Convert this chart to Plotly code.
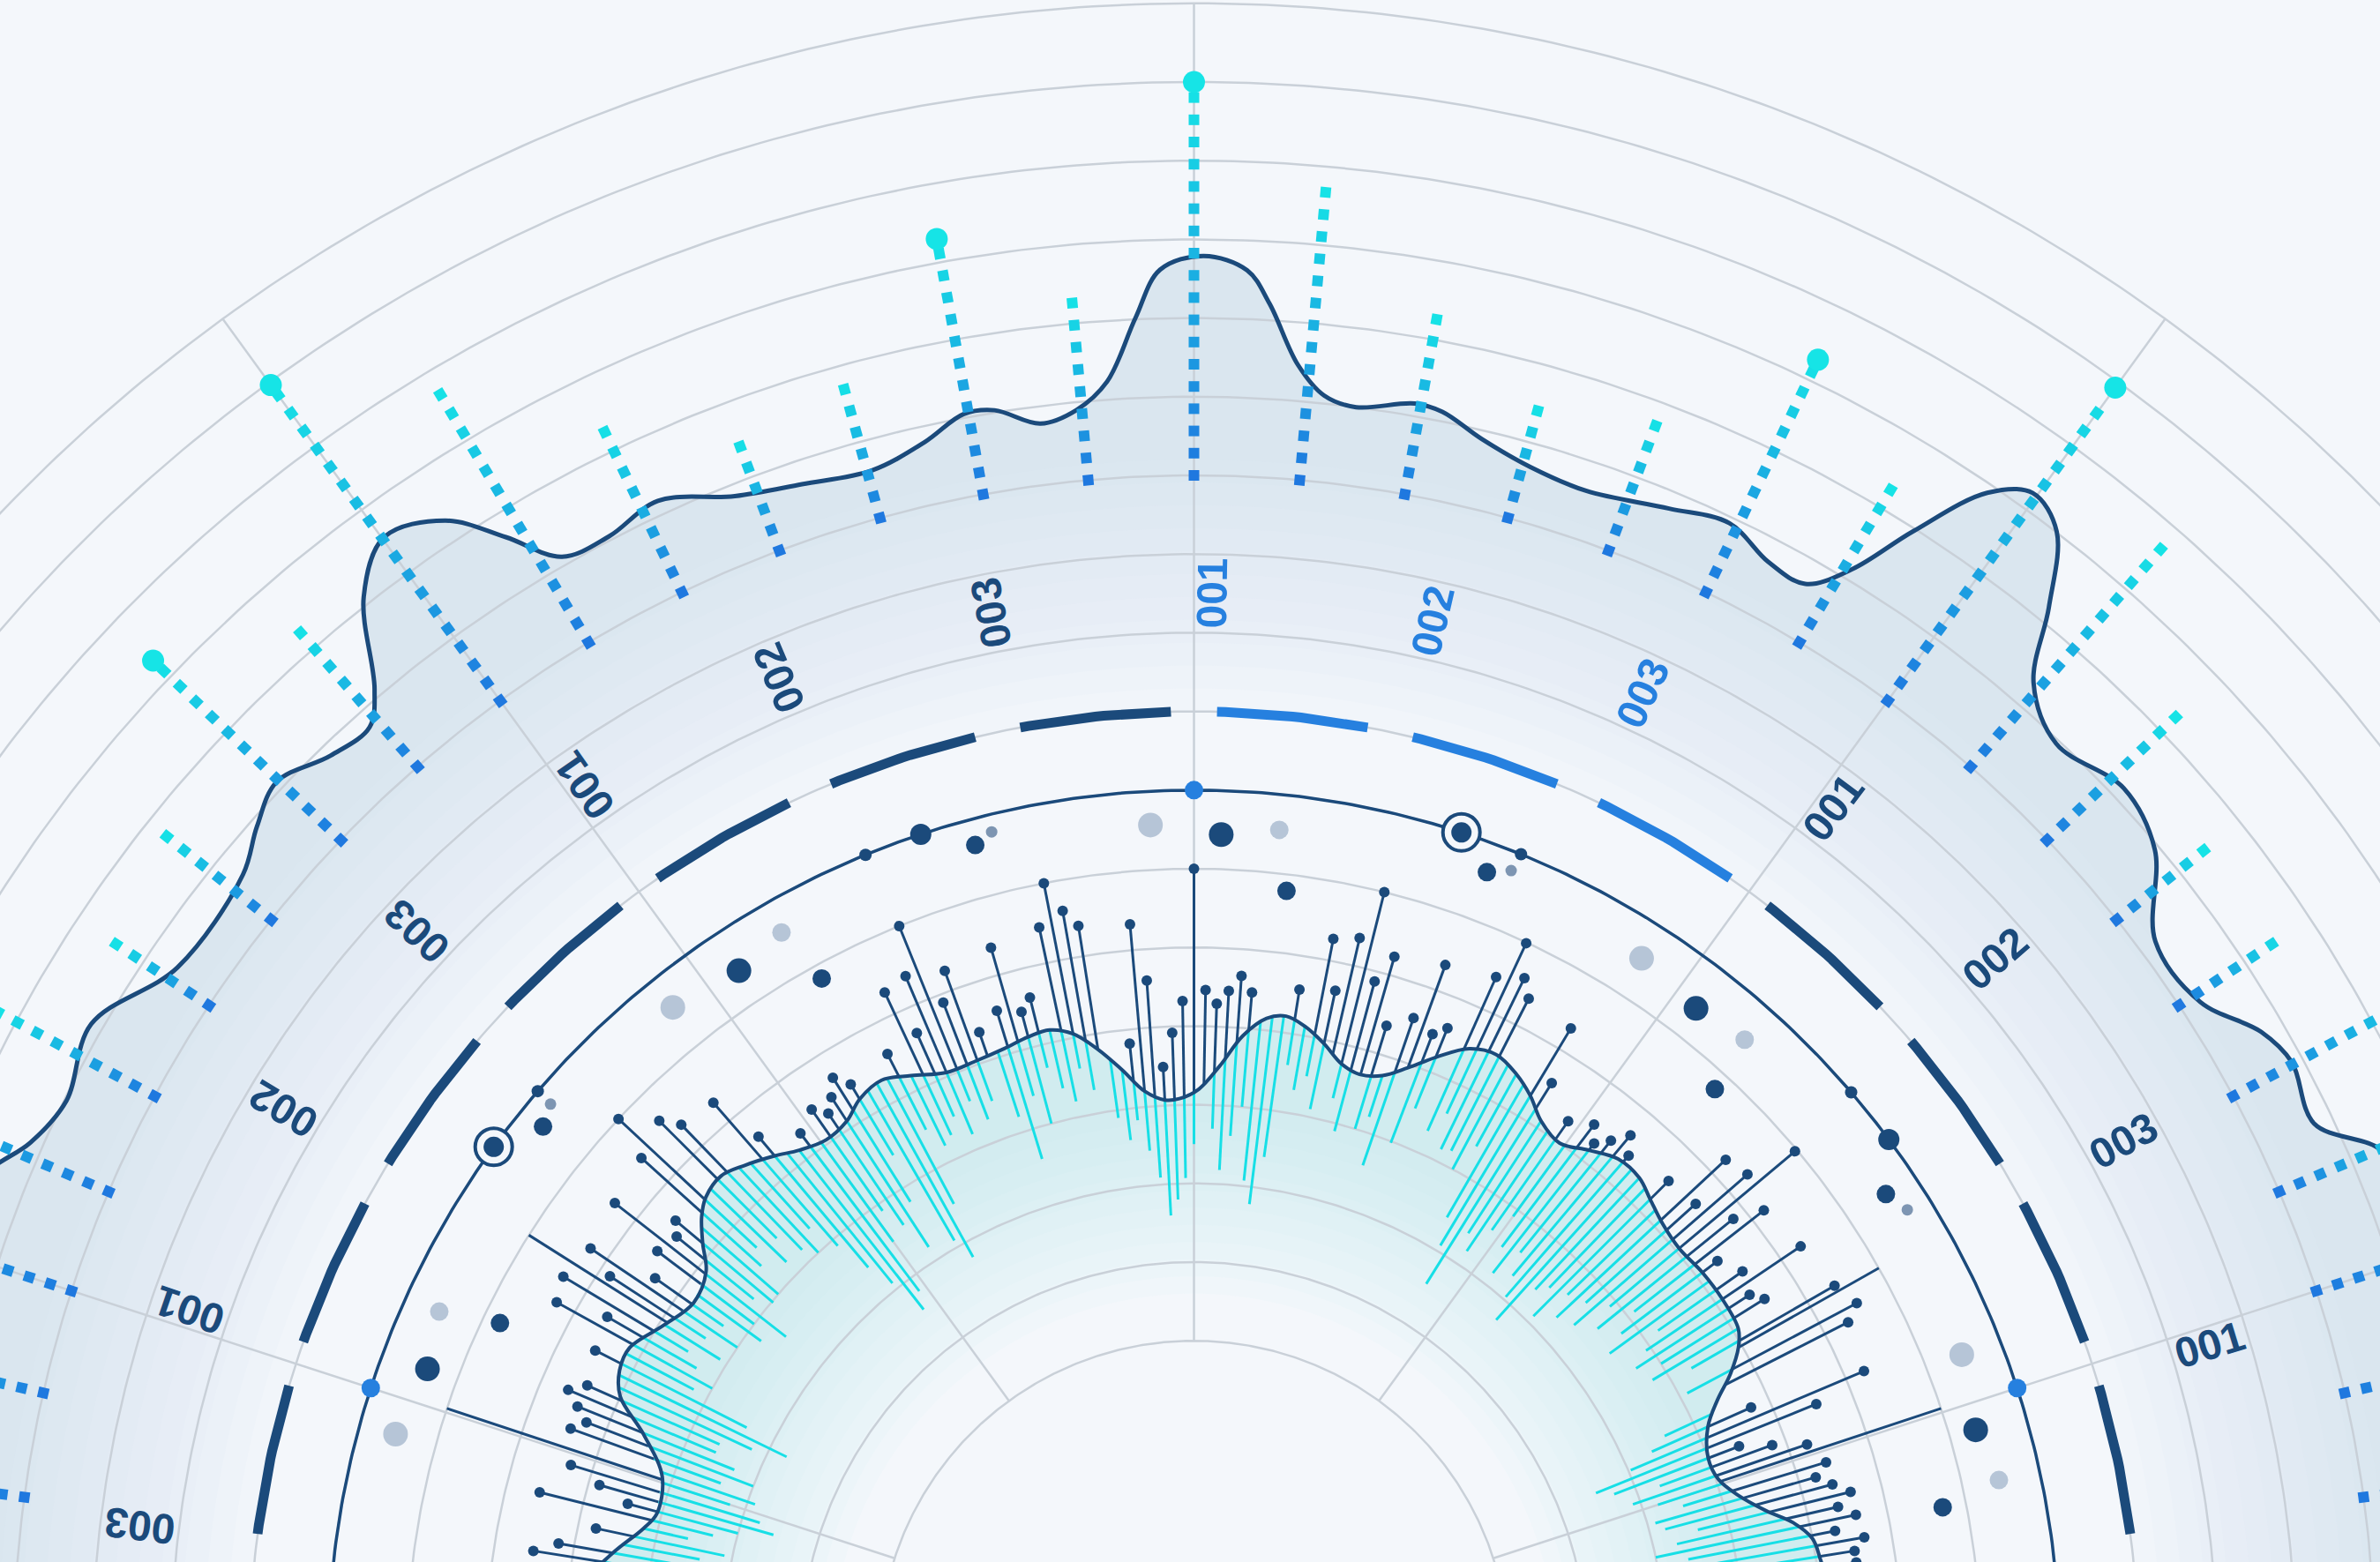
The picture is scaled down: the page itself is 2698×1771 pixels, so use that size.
import numpy as np
import plotly.graph_objects as go

# ---------------- data ----------------
GRID_R = [4, 5, 6, 7, 8, 9, 10, 11, 12, 13, 14, 15, 16, 17, 18, 19, 20, 21]
SPOKE_ANG = [18, 54, 90, 126, 162]

# outer smooth band (angle in degrees, radius)
OUTER_ANG = [-14, -8, -3, 2, 6, 10, 14, 18, 21, 23, 25.4, 28.4, 30.3, 33.0, 36.6, 40.0, 43.0, 46.6,
             49.2, 50.8, 52.5, 54.2, 55.7, 57.4, 58.8, 60.3, 62.3, 64.7, 67.5, 71.4, 74.2, 76.7,
             78.7, 80.0, 82.6, 84.1, 85.4, 86.8, 87.8, 89.6, 91.4, 92.5, 93.9, 95.4, 97.1, 99.1,
             100.5, 102.5, 105.2, 108.5, 111.6, 114.9, 117.6, 119.9, 121.6, 123.4, 125.9, 128.1,
             130.3, 131.6, 133.8, 136.4, 138.5, 140.6, 145.9, 150.2, 153.8, 156.2, 158, 161, 164,
             167, 171, 176, 182, 188, 194]
OUTER_R = [16.1, 16.3, 16.0, 16.2, 16.4, 16.1, 15.9, 16.1, 16.3, 16.4, 15.76, 15.86, 15.71, 15.25,
           15.22, 15.94, 16.16, 15.95, 16.33, 17.19, 18.01, 18.22, 17.89, 16.96, 16.14, 15.68,
           15.70, 15.92, 15.78, 15.62, 15.70, 15.89, 16.12, 16.16, 16.0, 16.1, 16.46, 17.21, 17.62,
           17.79, 17.62, 17.02, 16.23, 15.9, 15.78, 16.03, 16.05, 15.8, 15.61, 15.70, 15.85, 16.18,
           16.05, 16.11, 16.69, 17.28, 17.55, 17.1, 16.1, 15.78, 15.85, 16.1, 15.9, 15.64, 15.6,
           16.15, 15.97, 16.16, 16.5, 16.9, 17.1, 16.7, 16.2, 16.0, 16.2, 16.1, 16.3]

# inner smooth band
INNER_ANG = [-10, -5, 0, 4, 8.5, 10.7, 12.5, 14.2, 16.5, 18.6, 21, 24, 26, 27.7, 29.5, 31, 34, 37,
             40, 42.7, 45, 47, 49.5, 52, 54.5, 57, 59, 61, 63.3, 65.6, 68, 70, 72, 74.1, 76, 78,
             80, 81.8, 83.5, 85.5, 87.5, 89.5, 91.5, 93, 95, 97, 99, 101, 103, 105, 107.5, 110,
             113, 116, 118.5, 121, 123, 125.5, 128, 130, 132.5, 134.6, 136.8, 138.3, 140, 141.8,
             144.8, 148.1, 151.4, 153.6, 155.7, 158.1, 161.4, 165.2, 167, 170, 174, 178, 183, 190]
INNER_R = [8.1, 8.3, 8.25, 8.2, 8.06, 8.0, 7.8, 7.5, 7.2, 7.03, 7.0, 7.15, 7.4, 7.7, 7.95, 8.07,
           8.1, 8.09, 8.05, 8.1, 8.2, 8.3, 8.3, 8.15, 8.0, 8.1, 8.3, 8.45, 8.55, 8.47, 8.2, 7.95,
           7.75, 7.68, 7.75, 7.95, 8.12, 8.21, 8.15, 7.9, 7.5, 7.2, 7.08, 7.07, 7.2, 7.5, 7.8,
           8.05, 8.16, 8.14, 8.08, 8.05, 8.05, 8.2, 8.32, 8.25, 8.1, 8.05, 8.15, 8.29, 8.45,
           8.56, 8.51, 8.38, 8.15, 7.89, 7.78, 7.94, 8.17, 8.15, 8.0, 7.54, 7.13, 7.06, 7.18,
           7.5, 7.9, 8.1, 8.2, 8.1]

# dotted spikes on the outer band
SPIKE_ANG = [2.57, 7.71, 12.86, 18.0, 23.14, 28.29, 33.43, 38.57, 43.71, 48.86, 54.0, 59.14, 64.29,
             69.43, 74.57, 79.71, 84.86, 90.0, 95.14, 100.29, 105.43, 110.57, 115.71, 120.86,
             126.0, 131.14, 136.29, 141.43, 146.57, 151.71, 156.86, 162.0, 167.14, 172.29, 177.43]
SPIKE_R = [16.47, 17.33, 18.75, 20.0, 17.3, 18.3, 16.64, 16.43, 17.28, 18.70, 19.92, 17.29, 18.28,
           16.76, 16.46, 17.31, 18.73, 20.0, 17.35, 18.3, 16.79, 16.50, 17.36, 18.78, 19.96,
           17.34, 18.3, 16.76, 16.46, 17.32, 18.75, 20.0, 17.3, 18.3, 16.77]
SPIKE_TIP = [0, 0, 0, 1, 0, 1, 0, 0, 0, 0, 1, 0, 1, 0, 0, 0, 0, 1, 0, 1, 0, 0, 0, 0, 1, 0, 1, 0,
             0, 0, 0, 1, 0, 1, 0]

# ring labels
LABEL_ANG = [5, 17, 29, 41, 53, 65, 77, 89, 101, 113, 125, 137, 149, 161, 173]
LABEL_TXT = ["002", "001", "003", "002", "001", "003", "002", "001", "003", "002", "001", "003",
             "002", "001", "003"]
LABEL_HI = [65, 77, 89]

# dashed ring segments (centre angles)
RING_CTR = [0, 12, 24, 36, 48, 60, 72, 84, 96, 108, 120, 132, 144, 156, 168, 180]
RING_HI = [60, 72, 84]

# navy lollipops (angle, end radius)
STEM_ANG = [0, 1, 2, 3, 4, 5, 6, 7, 8, 9, 10, 11, 12, 13, 14, 15, 16, 17, 19, 20, 21, 22, 23, 24,
            27, 28, 30, 32, 33, 34, 35, 37, 38, 39, 40, 41, 42, 43, 45, 49, 50, 51, 52, 53, 55,
            58, 59, 63, 64, 65, 66, 68, 69, 70, 71, 73, 74, 75, 76, 77, 78, 79, 81, 85, 86, 87,
            88, 89, 90, 91, 92, 93, 94, 95, 96, 99, 100, 101, 102, 104, 105, 106, 107, 109, 110,
            111, 112, 113, 114, 115, 117, 121, 122, 123, 124, 125, 127, 130, 131, 134, 135, 137,
            138, 140, 141, 142, 143, 145, 146, 147, 149, 150, 151, 153, 156, 157, 158, 159, 160,
            163, 164, 165, 166, 168, 170, 171, 173, 174, 176, 177, 179]
STEM_R = [8.6, 8.5, 8.9, 8.4, 8.7, 8.35, 8.8, 9.2, 8.5, 8.5, 8.65, 8.3, 8.6, 8.4, 8.6, 8.4, 8.22,
          8.4, 8.24, 7.82, 7.42, 8.53, 9.25, 7.75, 9.33, 9.54, 9.4, 8.55, 8.42, 9.3, 8.51, 8.33,
          9.19, 8.82, 9.97, 9.32, 8.58, 9.24, 8.53, 8.42, 8.63, 8.42, 8.26, 8.45, 8.29, 8.58, 9.3,
          9.37, 9.58, 9.99, 9.44, 8.6, 8.46, 9.34, 8.57, 8.37, 9.24, 8.87, 10.0, 9.36, 8.64, 9.28,
          8.57, 8.46, 8.66, 8.46, 8.29, 8.46, 10.0, 8.32, 7.92, 7.49, 8.6, 9.33, 7.82, 9.39, 9.61,
          10.0, 9.46, 8.62, 8.47, 9.36, 8.57, 8.38, 9.26, 8.89, 10.0, 9.38, 8.66, 9.3, 8.58, 8.47,
          8.66, 8.46, 8.31, 8.47, 8.31, 8.61, 9.31, 9.38, 9.61, 10.0, 9.45, 8.6, 8.46, 9.34, 8.54,
          8.36, 9.25, 8.85, 9.35, 8.61, 9.26, 8.54, 8.44, 8.64, 8.45, 8.27, 8.43, 8.28, 7.86,
          7.45, 8.57, 7.77, 8.2, 8.5, 8.3, 8.7, 8.4, 8.6, 8.5]
# long plain stems
LONG_ANG = [18.3, 29.5, 147.7, 161.7]
LONG_R = [10.0, 10.0, 10.0, 10.0]

# cyan inner ticks (angle, inner radius)
CYAN_ANG = [0, 1, 2, 3, 4, 5, 6, 7, 8, 9, 10, 11, 12, 13, 14, 15, 16, 17, 18, 19, 20, 21, 22, 23,
            24, 25, 28, 30, 31, 32, 33, 34, 35, 36, 37, 38, 39, 40, 41, 42, 43, 44, 45, 46, 47,
            48, 49, 50, 51, 52, 53, 54, 55, 56, 57, 58, 59, 60, 61, 62, 63, 64, 65, 66, 68, 69,
            71, 72, 73, 75, 76, 78, 79, 80, 81, 82, 83, 84, 85, 86, 87, 88, 90, 91, 92, 93, 94,
            95, 96, 97, 98, 100, 101, 102, 103, 104, 105, 106, 107, 108, 110, 111, 112, 113, 114,
            115, 116, 117, 118, 119, 120, 121, 122, 123, 124, 125, 126, 127, 128, 129, 130, 131,
            132, 133, 134, 135, 136, 137, 138, 139, 140, 141, 142, 143, 144, 145, 146, 147, 148,
            149, 150, 151, 152, 153, 154, 155, 156, 157, 158, 159, 160, 161, 162, 163, 164, 165,
            166, 167, 168, 169, 170, 171, 172, 173, 174, 175, 176, 177, 178, 179, 180]
CYAN_R = [5.9, 6.3, 5.8, 6.6, 6.1, 5.7, 6.4, 6.0, 6.5, 6.2, 5.9, 6.4, 6.0, 6.3, 6.6, 6.2, 6.1, 6.5,
          6.2, 5.9, 6.3, 5.72, 5.51, 6.03, 6.37, 6.6, 7.1, 7.3, 6.8, 7.0, 6.7, 6.93, 7.2, 6.53,
          6.8, 7.1, 6.6, 6.9, 6.4, 6.7, 6.3, 6.6, 6.1, 6.5, 6.36, 5.74, 6.04, 6.3, 6.59, 6.17,
          6.5, 6.9, 6.6, 6.2, 6.4, 5.57, 6.08, 6.43, 7.4, 7.0, 7.2, 7.16, 7.6, 7.3, 7.5, 6.98,
          6.59, 7.2, 7.0, 6.9, 7.3, 7.1, 7.5, 7.3, 7.6, 6.4, 5.78, 6.07, 7.0, 6.62, 6.18, 6.7,
          6.5, 6.07, 5.8, 5.6, 6.09, 6.44, 6.84, 6.6, 6.9, 7.3, 7.6, 7.2, 7.4, 7.7, 7.0, 7.4, 6.6,
          7.2, 7.5, 7.3, 7.6, 7.2, 7.5, 7.3, 7.21, 7.5, 6.5, 5.79, 6.09, 7.42, 6.8, 6.19, 6.6,
          6.9, 6.5, 5.8, 5.58, 6.09, 6.44, 6.9, 7.3, 7.0, 7.17, 7.5, 7.2, 7.6, 7.4, 7.0, 6.98,
          7.2, 6.58, 7.0, 6.8, 7.3, 7.0, 7.4, 7.1, 7.5, 7.3, 7.0, 7.2, 6.38, 5.76, 6.2, 6.6, 6.6,
          6.3, 6.0, 6.4, 5.9, 6.2, 5.77, 5.56, 6.0, 6.3, 6.6, 6.1, 6.4, 6.7, 6.2, 6.5, 6.0, 6.4,
          6.7, 6.2, 6.5, 6.0, 6.4, 6.1]

# scattered satellites between the inner band and the orbit ring
NAVY_BIG_ANG = [88.1, 52.2, 16.1, 123.6, 159.5]
NAVY_BIG_R = [10.44, 10.41, 10.34, 10.45, 10.40]
GRAY_BIG_ANG = [93.0, 57.3, 21.4, 128.8, 164.5]
GRAY_BIG_R = [10.57, 10.53, 10.48, 10.57, 10.53]
GRAY_MED_ANG = [84.1, 48.2, 12.3, 119.7, 155.5]
GRAY_MED_R = [10.55, 10.50, 10.47, 10.58, 10.54]
NAVY_MED_ANG = [83.1, 47.4, 11.2, 118.8, 154.4, 105.1, 69.5, 33.7, 140.9]
NAVY_MED_R = [9.79, 9.78, 9.70, 9.82, 9.78, 10.67, 10.63, 10.57, 10.66]
GRAY_TINY_ANG = [103.8, 68.0, 32.0, 139.4]
GRAY_TINY_R = [10.78, 10.76, 10.69, 10.77]
ORBIT_SMALL_ANG = [67.8, 139.3, 112.3, 40.6]
ORBIT_MED_ANG = [108.4, 36.6]
ORBIT_R = 11.0
TARGET_ANG = [0, 72, 144]
NODE_ANG = [18, 90, 162]
RING_R = 12.0
LABEL_R = 13.5
SPIKE_BASE = 15.0

# ---------------- styling ----------------
BG = "#f4f7fb"
NAVY = "#1b4a7b"
BLUE = "#2680df"
CYAN = "#17dfe6"
GRID = "#c9d0d8"
GRAY = "#b6c5d7"
GRAY2 = "#7d95b2"

U_PX = 89.2                      # pixels per radial unit
W, H = 2698, 1771
CX_PX, CY_PX = 1353.5, 1877.0    # centre of the rings in page pixels
x_rng = [-CX_PX / U_PX, (W - CX_PX) / U_PX]
y_rng = [(CY_PX - H) / U_PX, CY_PX / U_PX]


def pol(r, deg):
    t = np.deg2rad(np.asarray(deg, dtype=float))
    r = np.asarray(r, dtype=float)
    return r * np.cos(t), r * np.sin(t)


def arc(r, a0, a1, step=0.5):
    n = max(2, int(abs(a1 - a0) / step) + 1)
    return pol(np.full(n, float(r)), np.linspace(a0, a1, n))


def joined(parts):
    xs, ys = [], []
    for x, y in parts:
        xs += list(np.asarray(x)) + [None]
        ys += list(np.asarray(y)) + [None]
    return xs, ys


def line_trace(xs, ys, color, width, shape="linear", dash=None):
    return go.Scatter(x=xs, y=ys, mode="lines",
                      line=dict(color=color, width=width, shape=shape, dash=dash),
                      hoverinfo="skip", showlegend=False)


def dot_trace(xs, ys, color, size, symbol="circle", lw=0, lc=None):
    return go.Scatter(x=xs, y=ys, mode="markers",
                      marker=dict(color=color, size=size, symbol=symbol,
                                  line=dict(width=lw, color=lc or color)),
                      hoverinfo="skip", showlegend=False)


fig = go.Figure()

# soft fills under the outer band, fading toward the centre
oa, orad = np.array(OUTER_ANG), np.array(OUTER_R)
ox, oy = pol(orad, oa)
for rb in np.linspace(12.0, 15.2, 12):
    bx, by = arc(rb, oa[-1], oa[0], 1.0)
    fig.add_trace(go.Scatter(x=np.r_[ox, bx], y=np.r_[oy, by], mode="lines",
                             line=dict(width=0, shape="spline"), fill="toself",
                             fillcolor="rgba(200,212,230,0.055)", hoverinfo="skip",
                             showlegend=False))

# soft fills under the inner band
ia, irad = np.array(INNER_ANG), np.array(INNER_R)
ix, iy = pol(irad, ia)
for rb in np.linspace(4.6, 7.0, 12):
    bx, by = arc(rb, ia[-1], ia[0], 1.0)
    fig.add_trace(go.Scatter(x=np.r_[ix, bx], y=np.r_[iy, by], mode="lines",
                             line=dict(width=0, shape="spline"), fill="toself",
                             fillcolor="rgba(185,240,242,0.05)", hoverinfo="skip",
                             showlegend=False))

# grid rings and spokes
gx, gy = joined([arc(r, -2, 182, 0.5) for r in GRID_R])
fig.add_trace(line_trace(gx, gy, GRID, 2.5))
sx_, sy_ = joined([pol([GRID_R[0], GRID_R[-1]], [a, a]) for a in SPOKE_ANG])
fig.add_trace(line_trace(sx_, sy_, GRID, 2.5))

# dashed ring
half = 4.6
for hi in (False, True):
    parts = [arc(RING_R, c - half, c + half, 0.5) for c in RING_CTR if (c in RING_HI) == hi]
    rx, ry = joined(parts)
    fig.add_trace(line_trace(rx, ry, BLUE if hi else NAVY, 11))

# orbit ring
cx_, cy_ = arc(ORBIT_R, -5, 185, 0.5)
fig.add_trace(line_trace(list(cx_), list(cy_), NAVY, 3.5))

# outer band outline
fig.add_trace(line_trace(list(ox), list(oy), NAVY, 5, shape="spline"))

# dotted spikes (square dashes with a blue-to-cyan ramp)
STEP = 0.2825
qx, qy, qc, qa = [], [], [], []
tipx, tipy = [], []
for a, re, tip in zip(SPIKE_ANG, SPIKE_R, SPIKE_TIP):
    rr = np.arange(SPIKE_BASE, re - (0.12 if tip else -1e-6), STEP)
    x, y = pol(rr, np.full(len(rr), a))
    qx += list(x)
    qy += list(y)
    qc += list((rr - SPIKE_BASE) / (re - SPIKE_BASE))
    qa += [90 - a] * len(rr)
    if tip:
        px, py = pol(re, a)
        tipx.append(float(px))
        tipy.append(float(py))
fig.add_trace(go.Scatter(x=qx, y=qy, mode="markers",
                         marker=dict(symbol="square", size=12, color=qc, cmin=0, cmax=1,
                                     colorscale=[[0, "#1f78df"], [0.5, "#1aaee2"],
                                                 [1, "#16e4e6"]],
                                     angle=qa, line=dict(width=0)),
                         hoverinfo="skip", showlegend=False))
fig.add_trace(dot_trace(tipx, tipy, "#16e4e6", 25))

# cyan ticks inside the inner band
parts = []
for a, ri in zip(CYAN_ANG, CYAN_R):
    rc = float(np.interp(a, ia, irad))
    parts.append(pol([ri, rc], [a, a]))
cxs, cys = joined(parts)
fig.add_trace(line_trace(cxs, cys, CYAN, 3))

# navy lollipops
parts, ex, ey = [], [], []
for a, re in zip(STEM_ANG, STEM_R):
    rc = float(np.interp(a, ia, irad))
    if re > rc:
        parts.append(pol([rc, re], [a, a]))
    px, py = pol(re, a)
    ex.append(float(px))
    ey.append(float(py))
for a, re in zip(LONG_ANG, LONG_R):
    rc = float(np.interp(a, ia, irad))
    parts.append(pol([rc, re], [a, a]))
nxs, nys = joined(parts)
fig.add_trace(line_trace(nxs, nys, NAVY, 3))
fig.add_trace(dot_trace(ex, ey, NAVY, 12))

# inner band outline
fig.add_trace(line_trace(list(ix), list(iy), NAVY, 4, shape="spline"))

# satellites
def pts(angs, rads):
    x, y = pol(rads, angs)
    return list(x), list(y)

x, y = pts(GRAY_BIG_ANG, GRAY_BIG_R)
fig.add_trace(dot_trace(x, y, GRAY, 28))
x, y = pts(GRAY_MED_ANG, GRAY_MED_R)
fig.add_trace(dot_trace(x, y, GRAY, 21))
x, y = pts(GRAY_TINY_ANG, GRAY_TINY_R)
fig.add_trace(dot_trace(x, y, GRAY2, 13))
x, y = pts(NAVY_BIG_ANG, NAVY_BIG_R)
fig.add_trace(dot_trace(x, y, NAVY, 28))
x, y = pts(NAVY_MED_ANG, NAVY_MED_R)
fig.add_trace(dot_trace(x, y, NAVY, 21))
x, y = pts(ORBIT_SMALL_ANG, [ORBIT_R] * len(ORBIT_SMALL_ANG))
fig.add_trace(dot_trace(x, y, NAVY, 14))
x, y = pts(ORBIT_MED_ANG, [ORBIT_R] * len(ORBIT_MED_ANG))
fig.add_trace(dot_trace(x, y, NAVY, 24))
x, y = pts(TARGET_ANG, [ORBIT_R] * len(TARGET_ANG))
fig.add_trace(dot_trace(x, y, BG, 42, symbol="circle", lw=4, lc=NAVY))
fig.add_trace(dot_trace(x, y, NAVY, 23))
x, y = pts(NODE_ANG, [ORBIT_R] * len(NODE_ANG))
fig.add_trace(dot_trace(x, y, BLUE, 21))

# ring labels, reading outward along each radius
for a, txt in zip(LABEL_ANG, LABEL_TXT):
    px, py = pol(LABEL_R, a)
    fig.add_annotation(x=float(px), y=float(py), text=f"<b>{txt}</b>", showarrow=False,
                       textangle=-a, xanchor="center", yanchor="middle",
                       font=dict(family="Liberation Sans, Arial, sans-serif", size=48,
                                 color=BLUE if a in LABEL_HI else NAVY))

fig.update_layout(
    width=W, height=H, autosize=False,
    margin=dict(l=0, r=0, t=0, b=0, pad=0),
    paper_bgcolor=BG, plot_bgcolor=BG,
    xaxis=dict(range=x_rng, visible=False, fixedrange=True),
    yaxis=dict(range=y_rng, visible=False, fixedrange=True),
    showlegend=False,
)

fig.write_html("out.html")
